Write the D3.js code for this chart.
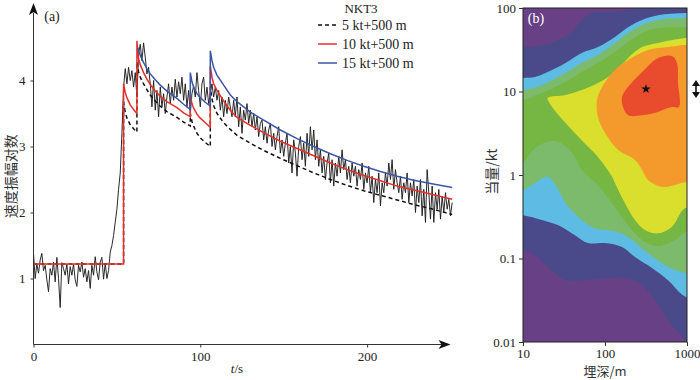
<!DOCTYPE html>
<html><head><meta charset="utf-8">
<script src="https://cdn.jsdelivr.net/npm/d3@7"></script>
<style>body{margin:0;background:#fff}svg{display:block}</style>
</head><body>
<svg id="c" width="700" height="380"></svg>
<script>
// ---------- DATA: panel (a) ----------
const obsStart = 0, obsStep = 1; // seconds
const obsValues = [
 1.38,1.0,1.22,1.08,1.28,1.38,1.12,1.2,0.98,0.8,
 1.15,1.05,1.25,0.95,1.32,1.0,0.56,1.24,1.15,1.05,
 1.22,0.92,1.18,1.05,1.22,0.98,0.88,1.2,1.1,1.25,
 1.02,1.15,0.95,1.12,0.85,1.2,1.05,1.33,1.1,0.98,
 1.25,1.32,0.99,1.23,1.0,1.12,1.4,1.5,1.65,1.85,
 2.05,2.35,2.6,3.2,3.9,4.18,3.95,4.2,4.0,4.15,
 3.9,4.12,3.75,4.4,4.55,4.3,4.57,4.35,4.1,4.2,
 3.95,3.6,4.0,3.55,3.85,3.45,3.9,3.6,3.8,3.5,
 3.75,3.95,3.65,3.9,3.7,4.02,3.75,3.98,3.8,4.05,
 3.7,3.95,3.6,3.85,3.5,3.8,3.92,3.75,4.12,3.85,
 3.6,3.95,4.05,3.7,3.9,3.65,3.8,3.95,3.75,3.9,
 3.7,3.85,3.55,3.75,3.45,3.7,3.5,3.75,3.6,3.45,
 3.7,3.45,3.75,3.3,3.6,3.2,3.55,3.4,3.65,3.35,
 3.55,3.3,3.5,3.25,3.45,3.15,3.35,3.4,3.1,3.3,
 3.05,3.25,3.35,3.0,3.2,2.95,3.15,3.3,2.9,3.1,
 2.85,3.05,3.2,2.75,3.0,2.6,3.1,2.9,2.55,3.0,
 3.15,2.8,3.05,2.7,3.2,2.85,3.3,2.95,3.25,2.8,
 3.1,2.7,2.95,2.6,2.85,2.5,2.75,2.9,2.45,2.8,
 2.4,2.75,2.55,2.85,2.6,2.95,2.65,2.8,2.5,2.7,
 2.45,2.75,2.55,2.7,2.4,2.65,2.5,2.75,2.35,2.6,
 2.45,2.7,2.3,2.55,2.15,2.5,2.3,2.6,2.1,2.45,
 2.3,2.6,2.4,2.75,2.5,2.8,2.35,2.65,2.45,2.3,
 2.55,2.2,2.45,2.3,2.6,2.15,2.45,2.25,2.5,2.0,
 2.4,2.15,2.5,1.95,2.35,1.85,2.65,2.3,1.9,2.4,
 1.85,2.3,2.05,2.35,1.9,2.25,2.0,2.3,2.05,2.2,
 1.95,2.15
];
// model curves [t (s), log velocity amplitude]
const model5kt = [[0,1.22],[54,1.22],[54,3.68],[55,3.52],[56,3.43],[58,3.33],[60,3.27],[62,3.22],
 [62,4.28],[63,4.13],[64,4.05],[66,3.95],[68,3.86],[70,3.78],[73,3.69],[76,3.61],[80,3.53],[86,3.44],[90,3.37],[94,3.31],
 [94,3.5],[95,3.38],[96,3.31],[98,3.2],[100,3.13],[103,3.06],[106,3.0],
 [106,3.9],[107,3.72],[108,3.62],[110,3.5],[114,3.36],[118,3.26],[122,3.17],[130,3.05],[138,2.94],[148,2.82],[158,2.71],
 [168,2.6],[178,2.5],[188,2.41],[198,2.33],[208,2.26],[218,2.19],[228,2.12],[238,2.06],[251,1.97]];
const model10kt = [[0,1.22],[54,1.22],[54,3.95],[55,3.82],[56,3.74],[58,3.63],[60,3.56],[62,3.5],
 [62,4.6],[62.5,4.45],[63,4.33],[64,4.24],[66,4.12],[68,4.02],[70,3.94],[73,3.84],[76,3.76],[80,3.68],[86,3.59],[90,3.51],[94,3.45],
 [94,3.78],[95,3.65],[96,3.58],[98,3.49],[100,3.43],[103,3.36],[106,3.29],
 [106,4.22],[107,4.05],[108,3.95],[110,3.85],[114,3.69],[118,3.55],[122,3.44],[130,3.32],[138,3.21],[148,3.08],[158,2.97],
 [168,2.86],[178,2.75],[188,2.65],[198,2.56],[208,2.48],[218,2.4],[228,2.34],[238,2.28],[251,2.2]];
const model15kt = [[62.5,4.5],[63,4.45],[64,4.38],[66,4.27],[68,4.18],[70,4.1],[73,4.01],[76,3.93],[80,3.84],[86,3.73],[90,3.64],[94,3.56],
 [94,4.12],[95,3.98],[96,3.9],[98,3.8],[100,3.74],[103,3.67],[106,3.61],
 [106,4.45],[107,4.3],[108,4.2],[110,4.08],[114,3.93],[118,3.78],[122,3.68],[130,3.52],[138,3.4],[148,3.25],[158,3.12],
 [168,3.0],[178,2.89],[188,2.79],[198,2.7],[208,2.62],[218,2.55],[228,2.49],[238,2.44],[251,2.38]];
const timeTicks = [0,100,200];
const ampTicks = [1,2,3,4];
const legendTitle = "NKT3";
const legendLabels = ["5 kt+500 m","10 kt+500 m","15 kt+500 m"];

// ---------- DATA: panel (b) ----------  [depth m, yield kt]
const depthTicks = [10,100,1000];
const yieldTicks = [100,10,1,0.1,0.01];
const level1 = [[6,34],[10,34],[17,36],[27,41.4],[40,51.6],[52,72],[69,87],[132,89.6],[191,94.6],[253,103],[400,170],[1700,170],
 [1700,0.006],[1000,0.0095],[946,0.0106],[587,0.018],[407,0.032],[283,0.048],[175,0.058],[100,0.058],[52,0.055],[33,0.055],[20,0.079],[14,0.11],[10,0.126],[6,0.14]];
const level2 = [[6,14.3],[10,14.5],[14,14.9],[20,17.1],[33,21.9],[52,28.9],[82,34],[132,45],[191,59],[283,72],[443,82],[946,87],[1700,88],
 [1700,0.03],[946,0.035],[587,0.055],[374,0.077],[232,0.104],[161,0.137],[100,0.153],[62,0.153],[43,0.19],[27,0.25],[17,0.29],[10,0.33],[6,0.35]];
const level3 = [[6,10.3],[10,10.4],[17,12],[33,16.7],[52,21.9],[82,27.4],[132,38.1],[191,50],[283,62.5],[443,72],[946,76],[1700,77],
 [1700,0.06],[946,0.067],[587,0.079],[334,0.116],[191,0.18],[132,0.21],[75,0.23],[52,0.29],[33,0.46],[27,0.66],[20,0.95],[14,0.8],[10,0.66],[6,0.6]];
const level4 = [[6,7.7],[10,7.9],[17,9.6],[33,13],[52,17.1],[82,21.9],[132,29.7],[191,39.2],[283,50],[443,57.5],[946,59],[1700,59],
 [1700,0.2],[1000,0.21],[714,0.167],[443,0.141],[283,0.167],[191,0.25],[132,0.41],[82,0.76],[52,1.15],[40,1.83],[27,2.5],[20,2.5],[14,2.1],[10,1.43],[6,1.2]];
const level5 = [[20,8.4],[33,9.1],[52,10.4],[82,12.6],[132,17.1],[191,25.2],[283,34],[443,38.1],[946,43.7],[1700,44],
 [1700,0.38],[946,0.4],[656,0.24],[443,0.2],[307,0.22],[232,0.29],[175,0.46],[132,0.8],[122,0.95],[82,1.64],[52,2.6],[33,4.2],[21,7.3]];
const level6 = [[1700,36],[946,36],[587,34],[334,31.4],[191,23.8],[132,18.1],[92,11.3],[80,7.9],[82,5.0],[100,3.2],[144,2.0],
 [232,1.51],[283,1.15],[334,0.87],[496,0.72],[714,0.76],[946,0.82],[1700,0.8]];
const level7 = [[161,8.6],[191,11.3],[283,17.1],[443,25.2],[656,26.6],[755,21.9],[777,12.6],[798,6.5],[656,6.5],[443,5.7],[283,5.2],[191,5.2],[166,6.5]];
const levelColors = ["#684085","#4a4a8a","#5ebce4","#7cba6c","#76b642","#dade2c","#f49a2c","#e84c2c"];
const bestFit = [316,10.7];

// ---------- DRAW ----------
const svg = d3.select("#c");
const serif = "Liberation Serif, DejaVu Serif, serif";
const cjk = "Noto Sans CJK SC, Noto Sans CJK JP, sans-serif";
const axisCol = "#333";
const fmt = d3.format("~g");

// panel (a)
const xA = d3.scaleLinear().domain([0,250]).range([33.5,450.5]);
const yA = d3.scaleLinear().domain([0,5.15]).range([344.5,4.6]);
const gA = svg.append("g");
const lineA = d3.line().x(d=>xA(d[0])).y(d=>yA(d[1]));
gA.append("path").datum(obsValues.map((v,i)=>[obsStart+i*obsStep,v]))
  .attr("d",lineA).attr("fill","none").attr("stroke","#1e1e1e").attr("stroke-width",0.95).attr("stroke-linejoin","round");
gA.append("path").datum(model5kt).attr("d",lineA).attr("fill","none").attr("stroke","#111")
  .attr("stroke-width",1.5).attr("stroke-dasharray","4,3");
gA.append("path").datum(model10kt).attr("d",lineA).attr("fill","none").attr("stroke","#e5302a").attr("stroke-width",1.5);
gA.append("path").datum(model15kt).attr("d",lineA).attr("fill","none").attr("stroke","#3b56a5").attr("stroke-width",1.5);

// axes (a)
const ax0 = xA(0), ay0 = yA(0), axEnd = xA.range()[1], ayEnd = yA.range()[1];
gA.append("line").attr("x1",ax0).attr("x2",axEnd-8).attr("y1",ay0).attr("y2",ay0).attr("stroke",axisCol);
gA.append("path").attr("d",`M${axEnd},${ay0} L${axEnd-12},${ay0-4.5} L${axEnd-9},${ay0} L${axEnd-12},${ay0+4.5} Z`).attr("fill","#111");
gA.append("line").attr("x1",ax0).attr("x2",ax0).attr("y1",ay0).attr("y2",ayEnd+8).attr("stroke",axisCol);
gA.append("path").attr("d",`M${ax0},${ayEnd-1.5} L${ax0-4.5},${ayEnd+10.5} L${ax0},${ayEnd+7.5} L${ax0+4.5},${ayEnd+10.5} Z`).attr("fill","#111");
const gxA = gA.append("g").attr("transform",`translate(0,${ay0})`)
  .call(d3.axisBottom(xA).tickValues(timeTicks).tickFormat(fmt).tickSize(3).tickPadding(4));
gxA.select(".domain").remove();
const gyA = gA.append("g").attr("transform",`translate(${ax0},0)`)
  .call(d3.axisLeft(yA).tickValues(ampTicks).tickFormat(fmt).tickSize(3).tickPadding(5));
gyA.select(".domain").remove();

// panel (b)
const xB = d3.scaleLog().domain([10,1000]).range([523,687]);
const yB = d3.scaleLog().domain([0.01,100]).range([342,8]);
const gB = svg.append("g");
svg.append("defs").append("clipPath").attr("id","clipB").append("rect")
  .attr("x",xB.range()[0]).attr("y",yB.range()[1]).attr("width",xB.range()[1]-xB.range()[0]).attr("height",yB.range()[0]-yB.range()[1]);
const gc = gB.append("g").attr("clip-path","url(#clipB)");
gc.append("rect").attr("x",xB.range()[0]).attr("y",yB.range()[1]).attr("width",xB.range()[1]-xB.range()[0])
  .attr("height",yB.range()[0]-yB.range()[1]).attr("fill",levelColors[0]);
const areaB = d3.line().x(d=>xB(d[0])).y(d=>yB(d[1])).curve(d3.curveCatmullRomClosed.alpha(0.5));
[level1,level2,level3,level4,level5,level6,level7].forEach((poly,i)=>{
  gc.append("path").attr("d",areaB(poly)).attr("fill",levelColors[i+1]);
});
gB.append("path").attr("d",d3.symbol(d3.symbolStar,28)())
  .attr("transform",`translate(${xB(bestFit[0])},${yB(bestFit[1])})`).attr("fill","#111");
gB.append("rect").attr("x",xB.range()[0]).attr("y",yB.range()[1]).attr("width",xB.range()[1]-xB.range()[0])
  .attr("height",yB.range()[0]-yB.range()[1]).attr("fill","none").attr("stroke","#222").attr("stroke-width",1);
const gxB = gB.append("g").attr("transform",`translate(0,${yB.range()[0]})`)
  .call(d3.axisBottom(xB).tickValues(depthTicks).tickFormat(fmt).tickSize(4).tickPadding(3));
const gyB = gB.append("g").attr("transform",`translate(${xB.range()[0]},0)`)
  .call(d3.axisLeft(yB).tickValues(yieldTicks).tickFormat(fmt).tickSize(4).tickPadding(3));
gxB.select(".domain").remove(); gyB.select(".domain").remove();

[gxA,gyA,gxB,gyB].forEach(g=>{
  g.attr("font-family",null).attr("font-size",null);
  g.selectAll("line").attr("stroke",axisCol);
  g.selectAll("text").style("font-family",serif).style("font-size","13px").attr("fill","#222");
});

// texts (a)
function txt(g,x,y,s,opts){
  const t=g.append("text").attr("x",x).attr("y",y).attr("text-anchor",opts.anchor||"start")
    .style("font-family",opts.font||serif).style("font-size",(opts.size||13)+"px").attr("fill",opts.fill||"#222");
  if(opts.rotate){t.attr("transform",`rotate(-90,${x},${y})`).attr("dominant-baseline","central");}
  t.text(s); return t;
}
txt(gA,52,21,"(a)",{anchor:"middle",size:14});
const tl = txt(gA,xA(122),373,"",{anchor:"middle",size:13});
tl.append("tspan").style("font-style","italic").text("t");
tl.append("tspan").text("/s");
txt(gA,10,yA(2.55),"速度振幅对数",{anchor:"middle",size:14,font:cjk,fill:"#333",rotate:true});

// legend
txt(gA,361,13,legendTitle,{anchor:"middle",size:13});
const lgStyles = [{c:"#111",d:"4,3"},{c:"#e5302a",d:null},{c:"#3b56a5",d:null}];
legendLabels.forEach((lab,i)=>{
  const yy = 25 + i*19;
  gA.append("line").attr("x1",318).attr("x2",337).attr("y1",yy).attr("y2",yy)
    .attr("stroke",lgStyles[i].c).attr("stroke-width",1.5).attr("stroke-dasharray",lgStyles[i].d);
  txt(gA,342,yy+5,lab,{size:14});
});

// texts (b)
txt(gB,536,23,"(b)",{anchor:"middle",size:14,fill:"#fff"});
txt(gB,xB(100),376,"埋深/m",{anchor:"middle",size:13,font:cjk,fill:"#333"});
txt(gB,491,yB(1.1),"当量/kt",{anchor:"middle",size:14,font:cjk,fill:"#333",rotate:true});
// double arrow marker beside best fit
const ay = yB(bestFit[1]), axx = 696;
gB.append("line").attr("x1",axx).attr("x2",axx).attr("y1",ay-5).attr("y2",ay+5).attr("stroke","#111").attr("stroke-width",1.6);
gB.append("path").attr("d",`M${axx},${ay-9} L${axx-4},${ay-3} L${axx+4},${ay-3} Z M${axx},${ay+9} L${axx-4},${ay+3} L${axx+4},${ay+3} Z`).attr("fill","#111");
</script>
</body></html>
